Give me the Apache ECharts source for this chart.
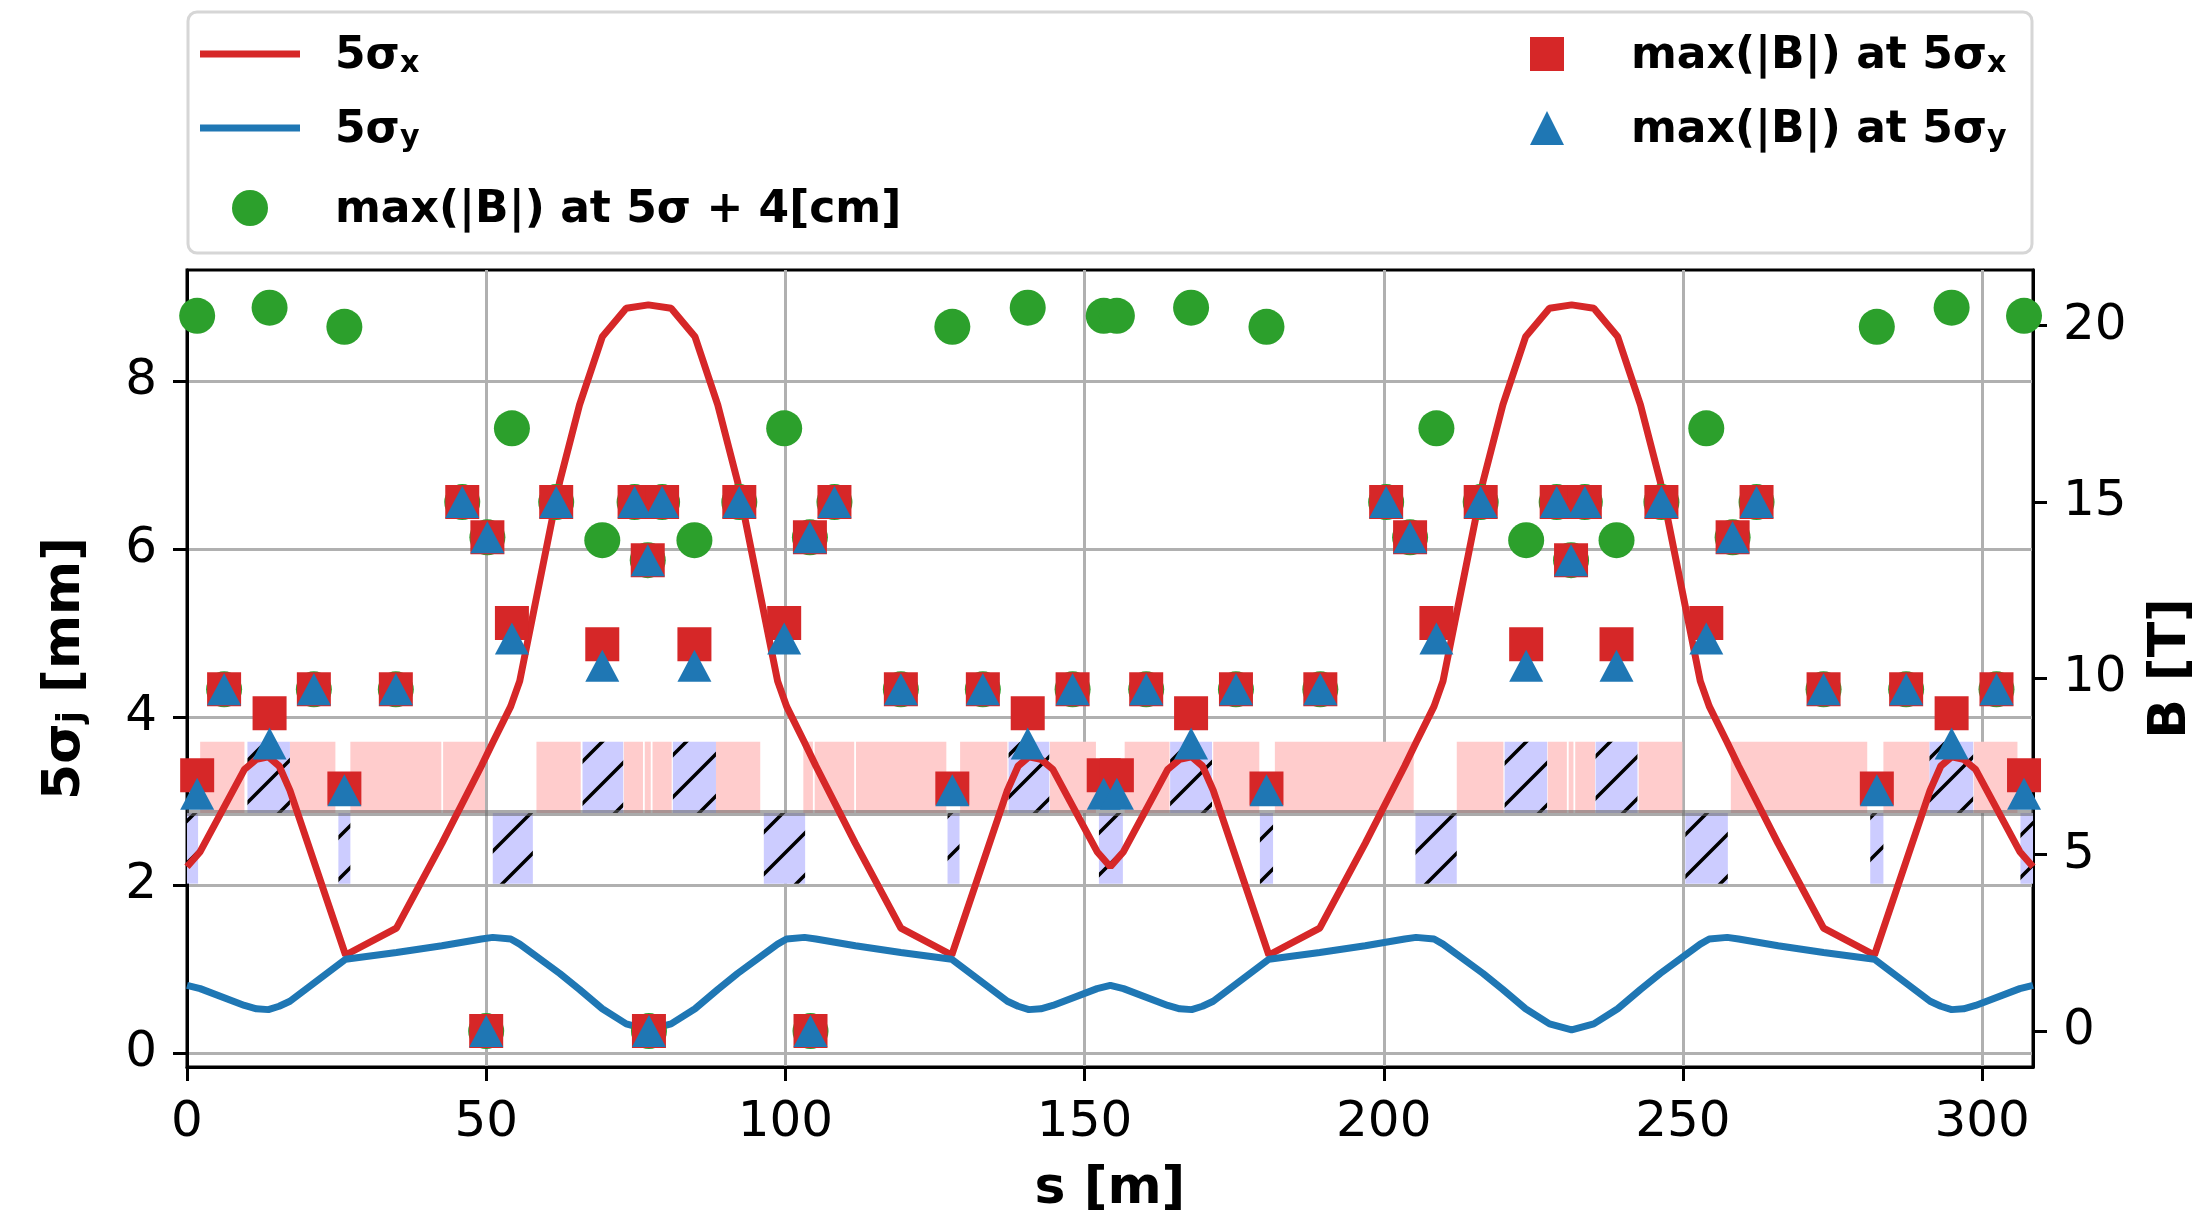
<!DOCTYPE html>
<html>
<head>
<meta charset="utf-8">
<script src="https://cdn.jsdelivr.net/npm/echarts@6/dist/echarts.min.js"></script>
<style>
html,body{margin:0;padding:0;background:#fff;}
#chart{width:2207px;height:1221px;}
</style>
</head>
<body>
<div id="chart"></div>
<script>
// ---------------- data ----------------
// beam envelope sample positions s [m]
const beamS = [
  0, 2.2, 9.6, 11.6, 13.6, 15.4, 17.2, 26.5, 35.0, 42.6, 49.2, 51.1, 54.1, 55.6, 62.3, 65.6, 69.4, 73.4, 77.1,
  80.9, 84.9, 88.7, 92.0, 98.7, 100.2, 103.2, 105.1, 111.7, 119.3, 127.8, 137.1, 138.9, 140.7, 142.7, 144.7, 152.1, 154.3,
  156.5, 163.9, 165.9, 167.9, 169.7, 171.5, 180.8, 189.3, 196.9, 203.5, 205.4, 208.4, 209.9, 216.6, 219.9, 223.7, 227.7, 231.4,
  235.1, 239.1, 242.9, 246.2, 252.9, 254.4, 257.4, 259.3, 265.9, 273.5, 282.0, 291.3, 293.1, 294.9, 296.9, 298.9, 306.3, 308.5
];
// 5 sigma_x [mm]
const sigmaX = [
  2.22, 2.40, 3.38, 3.50, 3.53, 3.42, 3.13, 1.17, 1.49, 2.50, 3.42, 3.70, 4.13, 4.43, 6.81, 7.72, 8.53, 8.87, 8.91,
  8.87, 8.53, 7.72, 6.81, 4.43, 4.13, 3.70, 3.42, 2.50, 1.49, 1.17, 3.13, 3.42, 3.53, 3.50, 3.38, 2.40, 2.22,
  2.40, 3.38, 3.50, 3.53, 3.42, 3.13, 1.17, 1.49, 2.50, 3.42, 3.70, 4.13, 4.43, 6.81, 7.72, 8.53, 8.87, 8.91,
  8.87, 8.53, 7.72, 6.81, 4.43, 4.13, 3.70, 3.42, 2.50, 1.49, 1.17, 3.13, 3.42, 3.53, 3.50, 3.38, 2.40, 2.22
];
// 5 sigma_y [mm]
const sigmaY = [
  0.81, 0.77, 0.57, 0.53, 0.52, 0.56, 0.62, 1.12, 1.20, 1.28, 1.36, 1.38, 1.36, 1.30, 0.95, 0.76, 0.53, 0.35, 0.28,
  0.35, 0.53, 0.76, 0.95, 1.30, 1.36, 1.38, 1.36, 1.28, 1.20, 1.12, 0.62, 0.56, 0.52, 0.53, 0.57, 0.77, 0.81,
  0.77, 0.57, 0.53, 0.52, 0.56, 0.62, 1.12, 1.20, 1.28, 1.36, 1.38, 1.36, 1.30, 0.95, 0.76, 0.53, 0.35, 0.28,
  0.35, 0.53, 0.76, 0.95, 1.30, 1.36, 1.38, 1.36, 1.28, 1.20, 1.12, 0.62, 0.56, 0.52, 0.53, 0.57, 0.77, 0.81
];

// magnet positions s [m] and peak fields [T]
const elemS = [
  1.7, 6.2, 13.8, 21.2, 26.3, 34.9, 46.0, 50.0, 50.2, 54.3, 61.7, 69.4, 74.8, 77.0, 77.2, 79.4, 84.8, 92.3,
  99.8, 104.1, 104.2, 108.2, 119.3, 127.9, 133.0, 140.5, 148.0, 153.2, 155.4, 160.3, 167.8, 175.3, 180.4, 189.4,
  200.4, 204.4, 208.8, 216.2, 223.8, 228.9, 231.3, 233.6, 238.9, 246.4, 253.9, 258.3, 262.3, 273.5, 282.4, 287.3,
  294.9, 302.4, 307.0
];
const bAtSigX = [
  7.25, 9.69, 9.01, 9.69, 6.88, 9.69, 15.0, 0.0, 14.0, 11.57, 15.0, 10.97, 15.0, 13.35, 0.0, 15.0, 10.97, 15.0,
  11.57, 14.0, 0.0, 15.0, 9.69, 6.88, 9.69, 9.01, 9.69, 7.25, 7.25, 9.69, 9.01, 9.69, 6.88, 9.69,
  15.0, 14.0, 11.57, 15.0, 10.97, 15.0, 13.35, 15.0, 10.97, 15.0, 11.57, 14.0, 15.0, 9.69, 6.88, 9.69,
  9.01, 9.69, 7.25
];
const bAtSigY = [
  6.73, 9.69, 8.15, 9.69, 6.83, 9.69, 15.0, 0.0, 14.0, 11.13, 15.0, 10.36, 15.0, 13.35, 0.0, 15.0, 10.36, 15.0,
  11.13, 14.0, 0.0, 15.0, 9.69, 6.83, 9.69, 8.15, 9.69, 6.73, 6.73, 9.69, 8.15, 9.69, 6.83, 9.69,
  15.0, 14.0, 11.13, 15.0, 10.36, 15.0, 13.35, 15.0, 10.36, 15.0, 11.13, 14.0, 15.0, 9.69, 6.83, 9.69,
  8.15, 9.69, 6.73
];
const bAtSig4cm = [
  20.28, 9.69, 20.51, 9.69, 19.97, 9.69, 15.0, 0.0, 14.0, 17.09, 15.0, 13.92, 15.0, 13.35, 0.0, 15.0, 13.92, 15.0,
  17.09, 14.0, 0.0, 15.0, 9.69, 19.97, 9.69, 20.51, 9.69, 20.28, 20.28, 9.69, 20.51, 9.69, 19.97, 9.69,
  15.0, 14.0, 17.09, 15.0, 13.92, 15.0, 13.35, 15.0, 13.92, 15.0, 17.09, 14.0, 15.0, 9.69, 19.97, 9.69,
  20.51, 9.69, 20.28
];

// lattice layout: [start, end] in s [m]
const dipoles = [
  [2.2, 9.6], [17.2, 24.8], [27.3, 42.5], [42.8, 49.8], [58.4, 65.8], [73.0, 76.2], [76.5, 77.5], [77.8, 81.0],
  [88.4, 95.8], [103.0, 104.6], [104.9, 111.5], [111.8, 126.9], [129.2, 137.1], [144.2, 151.9], [156.7, 164.2],
  [171.5, 179.2], [181.8, 205.0], [212.2, 220.0], [227.4, 230.6], [230.9, 231.7], [232.0, 235.3], [242.6, 249.9],
  [258.0, 280.8], [283.5, 291.2], [298.6, 305.9]
];
const quadsF = [
  [10.1, 17.2], [66.1, 72.9], [81.2, 88.4], [137.3, 144.1], [164.3, 171.3], [220.2, 227.3], [235.4, 242.4], [291.2, 298.5]
];
const quadsD = [
  [0, 1.85], [25.3, 27.3], [51.1, 57.8], [96.4, 103.3], [127.1, 129.1], [152.4, 156.4], [179.3, 181.5],
  [205.3, 212.2], [250.4, 257.5], [281.3, 283.5], [306.4, 308.5]
];
// lattice drawing levels (in 5σ [mm] axis units)
const latticeBase = 2.86;
const latticeTop = 3.71;
const latticeBottom = 2.02;

const xTicks = [0, 50, 100, 150, 200, 250, 300];
const yLeftTicks = [0, 2, 4, 6, 8];
const yRightTicks = [0, 5, 10, 15, 20];

// ---------------- chart ----------------
const FF = 'DejaVu Sans';
const RED = '#d62728', BLUE = '#1f77b4', GREEN = '#2ca02c';

function makeHatch() {
  const n = 42;
  const c = document.createElement('canvas');
  c.width = n; c.height = n;
  const g = c.getContext('2d');
  g.fillStyle = '#ccccff';
  g.fillRect(0, 0, n, n);
  g.strokeStyle = '#000';
  g.lineWidth = 3.5;
  g.beginPath();
  for (let k = -1; k <= 1; k++) {
    g.moveTo(k * n - 3, n + 3);
    g.lineTo(k * n + n + 3, -3);
  }
  g.stroke();
  return c;
}
const hatch = makeHatch();

const latticeData = [];
dipoles.forEach(d => latticeData.push([d[0], d[1], latticeBase, latticeTop, 0]));
quadsF.forEach(d => latticeData.push([d[0], d[1], latticeBase, latticeTop, 1]));
quadsD.forEach(d => latticeData.push([d[0], d[1], latticeBottom, latticeBase, 1]));

const zip = (a, b) => a.map((v, i) => [v, b[i]]);

const richStyles = {
  a: {fontSize: 44, fontWeight: 'bold', fontFamily: FF, color: '#000', lineHeight: 50, verticalAlign: 'bottom'},
  b: {fontSize: 30, fontWeight: 'bold', fontFamily: FF, color: '#000', lineHeight: 30, verticalAlign: 'bottom'}
};
const legendText = {
  '5σx': '{a|5σ}{b|x}',
  '5σy': '{a|5σ}{b|y}',
  'max(|B|) at 5σ + 4[cm]': '{a|max(|B|) at 5σ + 4[cm]}',
  'max(|B|) at 5σx': '{a|max(|B|) at 5σ}{b|x}',
  'max(|B|) at 5σy': '{a|max(|B|) at 5σ}{b|y}'
};
const fmt = name => legendText[name] || name;

const tickLabel = {fontSize: 50, fontFamily: FF, color: '#000'};

const chart = echarts.init(document.getElementById('chart'), null, {renderer: 'canvas', width: 2207, height: 1221});

const option = {
  animation: false,
  backgroundColor: '#ffffff',
  graphic: [{
    type: 'rect', z: -1, silent: true,
    shape: {x: 188, y: 12, width: 1844, height: 241, r: 9},
    style: {fill: '#ffffff', stroke: '#d6d6d6', lineWidth: 3}
  }],
  legend: [
    {
      data: ['5σx', '5σy'], orient: 'vertical', left: 195, top: 30, padding: 5,
      itemWidth: 100, itemHeight: 7, itemGap: 30, icon: 'rect', selectedMode: false,
      formatter: fmt, textStyle: {padding: [0, 0, 0, 30], rich: richStyles}
    },
    {
      data: ['max(|B|) at 5σ + 4[cm]'], orient: 'vertical', left: 227, top: 184, padding: 5,
      itemWidth: 36, itemHeight: 36, selectedMode: false,
      formatter: fmt, textStyle: {padding: [0, 0, 0, 62], rich: richStyles}
    },
    {
      data: ['max(|B|) at 5σx', 'max(|B|) at 5σy'], orient: 'vertical', left: 1525, top: 30, padding: 5,
      itemWidth: 34, itemHeight: 34, itemGap: 30, selectedMode: false,
      formatter: fmt, textStyle: {padding: [0, 0, 0, 62], rich: richStyles}
    }
  ],
  grid: {left: 187, top: 270, width: 1846, height: 797, show: true, borderColor: '#000', borderWidth: 3, backgroundColor: 'transparent'},
  xAxis: {
    type: 'value', min: 0, max: 308.5,
    axisLine: {show: true, onZero: false, lineStyle: {color: '#000', width: 3}},
    axisTick: {show: true, length: 14, lineStyle: {color: '#000', width: 3}, customValues: xTicks},
    axisLabel: Object.assign({customValues: xTicks, margin: 31}, tickLabel),
    splitLine: {show: true, lineStyle: {color: '#b0b0b0', width: 3}},
    name: 's [m]', nameLocation: 'middle', nameGap: 96,
    nameTextStyle: {fontSize: 52, fontWeight: 'bold', fontFamily: FF, color: '#000'}
  },
  yAxis: [
    {
      type: 'value', min: -0.163, max: 9.325, position: 'left',
      axisLine: {show: true, onZero: false, lineStyle: {color: '#000', width: 3}},
      axisTick: {show: true, length: 14, lineStyle: {color: '#000', width: 3}, customValues: yLeftTicks},
      axisLabel: Object.assign({customValues: yLeftTicks, margin: 30}, tickLabel),
      splitLine: {show: true, lineStyle: {color: '#b0b0b0', width: 3}},
      name: '{a|5σ}{b|j}{a| [mm]}', nameLocation: 'middle', nameRotate: 90, nameGap: 96,
      nameTextStyle: {
        rich: {
          a: {fontSize: 52, fontWeight: 'bold', fontFamily: FF, color: '#000', lineHeight: 58, verticalAlign: 'bottom'},
          b: {fontSize: 36, fontWeight: 'bold', fontFamily: FF, color: '#000', lineHeight: 36, verticalAlign: 'bottom'}
        }
      }
    },
    {
      type: 'value', min: -1.02, max: 21.58, position: 'right',
      axisLine: {show: true, onZero: false, lineStyle: {color: '#000', width: 3}},
      axisTick: {show: true, length: 14, lineStyle: {color: '#000', width: 3}, customValues: yRightTicks},
      axisLabel: Object.assign({customValues: yRightTicks, margin: 30}, tickLabel),
      splitLine: {show: false},
      name: 'B [T]', nameLocation: 'middle', nameRotate: 90, nameGap: 112,
      nameTextStyle: {fontSize: 52, fontWeight: 'bold', fontFamily: FF, color: '#000'}
    }
  ],
  series: [
    {
      name: 'lattice', type: 'custom', xAxisIndex: 0, yAxisIndex: 0, z: 1, silent: true,
      data: latticeData, encode: {x: [0, 1], y: [2, 3]},
      renderItem: function (params, api) {
        const a = api.coord([api.value(0), api.value(3)]);
        const b = api.coord([api.value(1), api.value(2)]);
        const kind = api.value(4);
        return {
          type: 'rect',
          shape: {x: a[0], y: a[1], width: b[0] - a[0], height: b[1] - a[1]},
          style: {fill: kind ? {image: hatch, repeat: 'repeat'} : '#ffcccc', stroke: null}
        };
      }
    },
    {
      name: '5σx', type: 'line', xAxisIndex: 0, yAxisIndex: 0, z: 3,
      data: zip(beamS, sigmaX), showSymbol: false, symbol: 'none', clip: true,
      lineStyle: {color: RED, width: 7}, itemStyle: {color: RED},
      markLine: {
        silent: true, symbol: 'none', z: 2, label: {show: false},
        lineStyle: {color: 'rgba(100,100,100,0.55)', width: 6, type: 'solid'},
        data: [{yAxis: latticeBase}]
      }
    },
    {
      name: '5σy', type: 'line', xAxisIndex: 0, yAxisIndex: 0, z: 3,
      data: zip(beamS, sigmaY), showSymbol: false, symbol: 'none', clip: true,
      lineStyle: {color: BLUE, width: 7}, itemStyle: {color: BLUE}
    },
    {
      name: 'max(|B|) at 5σ + 4[cm]', type: 'scatter', xAxisIndex: 0, yAxisIndex: 1, z: 4,
      data: zip(elemS, bAtSig4cm), symbol: 'circle', symbolSize: 36, itemStyle: {color: GREEN, opacity: 1}
    },
    {
      name: 'max(|B|) at 5σx', type: 'scatter', xAxisIndex: 0, yAxisIndex: 1, z: 5,
      data: zip(elemS, bAtSigX), symbol: 'rect', symbolSize: 34, itemStyle: {color: RED, opacity: 1}
    },
    {
      name: 'max(|B|) at 5σy', type: 'scatter', xAxisIndex: 0, yAxisIndex: 1, z: 6,
      data: zip(elemS, bAtSigY), symbol: 'triangle', symbolSize: [34, 32], itemStyle: {color: BLUE, opacity: 1}
    }
  ]
};
chart.setOption(option);
</script>
</body>
</html>
